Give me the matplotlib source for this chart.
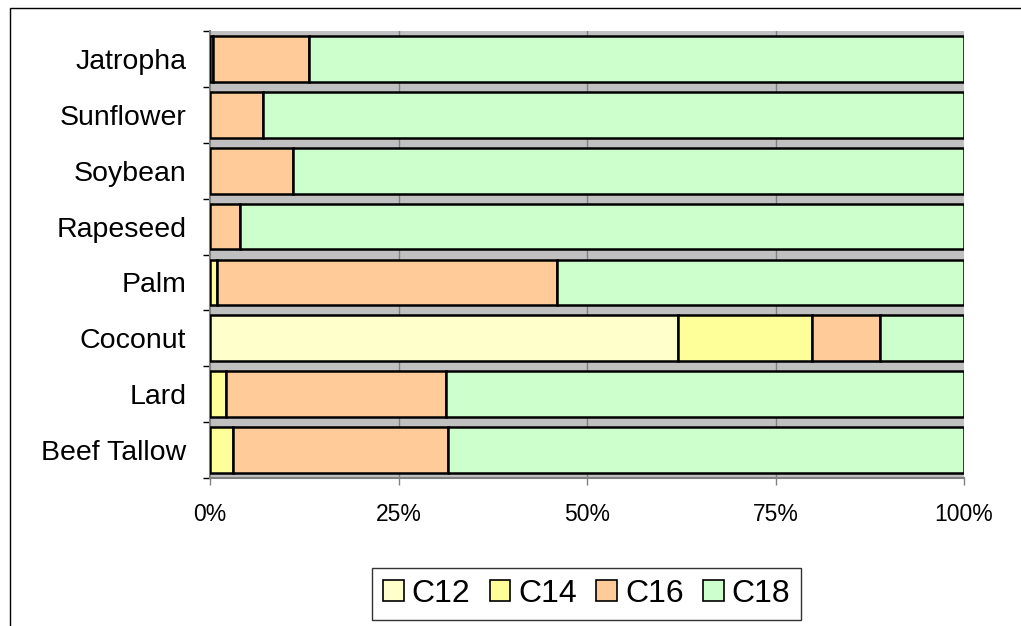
import numpy as np
import matplotlib
matplotlib.use('Agg')
import matplotlib.pyplot as plt
from matplotlib.patches import Rectangle

plt.rcParams['font.family'] = ['Liberation Sans', 'DejaVu Sans']

# fatty acid chain length composition (% of total), top to bottom
oils = ['Jatropha', 'Sunflower', 'Soybean', 'Rapeseed', 'Palm', 'Coconut', 'Lard', 'Beef Tallow']
c12 = [0, 0, 0, 0, 0, 62.1, 0, 0]
c14 = [0.4, 0, 0, 0, 0.9, 17.7, 2.1, 3.05]
c16 = [12.7, 7.0, 11.0, 4.0, 45.1, 9.1, 29.2, 28.55]
c18 = [86.9, 93.0, 89.0, 96.0, 54.0, 11.1, 68.7, 68.4]

series = ['C12', 'C14', 'C16', 'C18']
colors = ['#FFFFCC', '#FFFF99', '#FFCC99', '#CCFFCC']

fig = plt.figure(figsize=(10.21, 6.26), dpi=100)
ax = fig.add_axes([210/1021, 148/626, 754/1021, 447/626])
ax.set_facecolor('#C0C0C0')

y = np.arange(len(oils))
left = np.zeros(len(oils))
for name, vals, col in zip(series, [c12, c14, c16, c18], colors):
    vals = np.array(vals, dtype=float)
    lw = np.where(vals > 0, 1.8, 0)
    ax.barh(y, vals, left=left, height=0.82, color=col, edgecolor='black',
            linewidth=lw, label=name, zorder=3)
    left += vals

for g in [25, 50, 75]:
    ax.axvline(g, color='#808080', linewidth=1, zorder=1)

ax.set_xlim(0, 100)
ax.set_ylim(len(oils) - 0.5, -0.5)
ax.set_xticks([0, 25, 50, 75, 100])
ax.set_xticklabels(['0%', '25%', '50%', '75%', '100%'], fontsize=16.5)
ax.set_yticks(y)
ax.set_yticklabels(oils, fontsize=20.5)
ax.set_yticks(np.arange(len(oils) + 1) - 0.5, minor=True)
ax.tick_params(axis='y', which='major', length=0, pad=17)
ax.tick_params(axis='y', which='minor', length=5, width=1, color='black')
ax.tick_params(axis='x', length=5, width=1, color='#808080', pad=13)

for s in ['top', 'right']:
    ax.spines[s].set_visible(False)
ax.spines['left'].set_color('#808080')
ax.spines['left'].set_linewidth(1.5)
ax.spines['bottom'].set_color('#808080')
ax.spines['bottom'].set_linewidth(1.5)

leg = fig.legend(loc='center', bbox_to_anchor=(586.5/1021, 32/626), ncol=4,
                 fontsize=23, frameon=True, fancybox=False, handlelength=0.65,
                 handleheight=0.65, handletextpad=0.25, columnspacing=0.6,
                 borderpad=0.35, borderaxespad=0)
leg.get_frame().set_edgecolor('black')
leg.get_frame().set_linewidth(1)
for h in leg.legend_handles:
    h.set_linewidth(1.2)

# chart area border (right and bottom edges run off the picture)
fig.patches.append(Rectangle((10/1021, -0.1), 1.2, (626 - 8)/626 + 0.1,
                             transform=fig.transFigure, fill=False,
                             edgecolor='black', linewidth=1))

fig.savefig('out.png', dpi=100)
